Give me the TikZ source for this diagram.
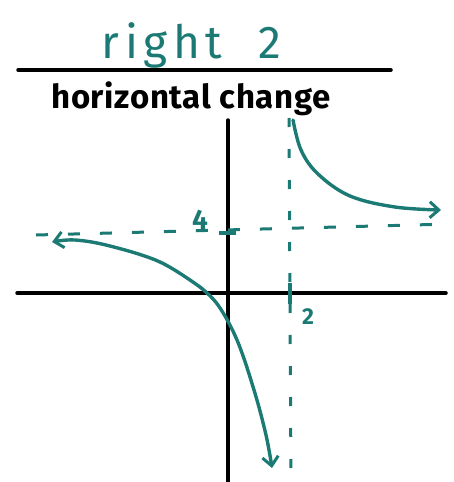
\documentclass[tikz,border=0pt]{standalone}
\usepackage{fontspec}
\setmainfont{Fira Sans}
\usetikzlibrary{arrows.meta}
\definecolor{teal1}{RGB}{28,122,116}
\tikzset{
  axis/.style={line width=3.5pt, black, line cap=round},
  curve/.style={line width=3.4pt, teal1, line cap=round, -{Straight Barb[length=9pt,width=16pt,line width=3pt]}},
  asym/.style={line width=3pt, teal1, dash pattern=on 12pt off 20pt},
  vasym/.style={line width=3pt, teal1, dash pattern=on 9pt off 22pt},
  tick/.style={line width=3.4pt, teal1},
}
\begin{document}
\begin{tikzpicture}[x=1pt,y=-1pt]
\useasboundingbox (0,0) rectangle (453,482);
% fraction
\node[teal1, anchor=base, font=\fontsize{46}{50}\selectfont\addfontfeature{LetterSpace=12}] (num) at (162,58) {right};
\node[teal1, anchor=base, font=\fontsize{46}{50}\selectfont] (two) at (270,58) {2};
\draw[axis] (18,70) -- (391,70);
\node[black, anchor=base, font=\fontsize{33}{40}\selectfont\bfseries\addfontfeature{LetterSpace=2}] (den) at (191,108) {horizontal change};
% axes
\coordinate (yt) at (228,120);
\coordinate (yb) at (228,482);
\coordinate (xl) at (17,293);
\coordinate (xr) at (446,293);
\draw[axis] (yt) -- (yb);
\draw[axis] (xl) -- (xr);
% asymptotes
\coordinate (ha) at (36,235);
\coordinate (hb) at (450,224);
\draw[asym] (ha) -- (hb);
\coordinate (va) at (289,118);
\coordinate (vb) at (291,482);
\draw[vasym] (va) -- (vb);
% ticks and labels
\draw[tick] (219,233) -- (236,233);
\draw[tick] (290,283) -- (290,304);
\node[teal1, font=\fontsize{28}{30}\selectfont\bfseries] (four) at (200,220) {4};
\node[teal1, font=\fontsize{23}{26}\selectfont\bfseries] (lab2) at (308,317) {2};
% curves
\draw[curve] plot[smooth, tension=0.6] coordinates {(293,120) (301,150) (318,174) (350,196) (395,207) (441,210)};
\draw[curve] plot[smooth, tension=0.6] coordinates {(200,287) (160,262) (110,246) (75,240) (52,242)};
\draw[curve] plot[smooth, tension=0.6] coordinates {(200,287) (218,305) (237,340) (254,390) (266,435) (272,468)};
\end{tikzpicture}
\end{document}
